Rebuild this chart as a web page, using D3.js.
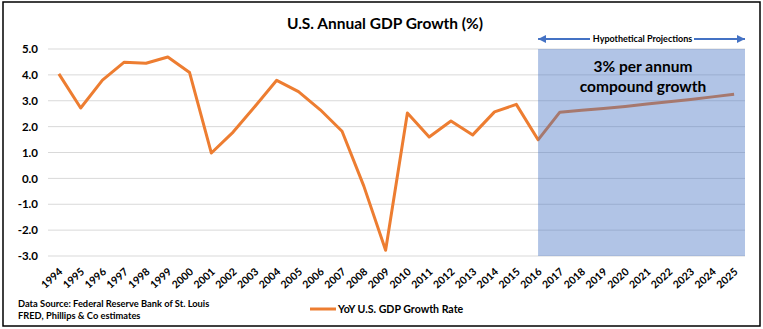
<!DOCTYPE html>
<html>
<head>
<meta charset="utf-8">
<script src="https://cdn.jsdelivr.net/npm/d3@7"></script>
<style>
  body { margin: 0; background: #fff; }
  svg text { font-family: Lato, "Open Sans", sans-serif; fill: #000; }
</style>
</head>
<body>
<div id="chart"></div>
<script>
// chart data
const years = ["1994","1995","1996","1997","1998","1999","2000","2001","2002","2003","2004",
  "2005","2006","2007","2008","2009","2010","2011","2012","2013","2014","2015","2016",
  "2017","2018","2019","2020","2021","2022","2023","2024","2025"];
const growth = [4.04, 2.72, 3.80, 4.49, 4.45, 4.69, 4.09, 0.98, 1.79, 2.78, 3.79,
  3.35, 2.65, 1.82, -0.30, -2.78, 2.53, 1.60, 2.22, 1.68, 2.57, 2.86, 1.49,
  2.56, 2.63, 2.70, 2.78, 2.87, 2.96, 3.05, 3.15, 3.25];
const yTicks = [5, 4, 3, 2, 1, 0, -1, -2, -3];
const projectionStart = "2016";
const seriesName = "YoY U.S. GDP Growth Rate";

const width = 763, height = 329;
const plotLeft = 48, plotRight = 745, plotTop = 49, plotBottom = 256;

const svg = d3.select('#chart').append('svg')
    .attr('width', width)
    .attr('height', height);

// outer frame
svg.append('rect')
    .attr('x', 3).attr('y', 2)
    .attr('width', 757).attr('height', 324)
    .attr('fill', 'none')
    .attr('stroke', '#000')
    .attr('stroke-width', 1.5);

const x = d3.scaleBand().domain(years).range([plotLeft, plotRight]).padding(0);
const y = d3.scaleLinear().domain([-3, 5]).range([plotBottom, plotTop]);
const cx = d => x(d) + x.bandwidth() / 2;

// gridlines
svg.append('g')
    .selectAll('line')
    .data(yTicks)
    .join('line')
    .attr('x1', plotLeft).attr('x2', plotRight)
    .attr('y1', d => y(d)).attr('y2', d => y(d))
    .attr('stroke', '#d9d9d9')
    .attr('stroke-width', 1);

// y labels
svg.append('g')
    .selectAll('text')
    .data(yTicks)
    .join('text')
    .attr('x', 38)
    .attr('y', d => y(d))
    .attr('dy', '0.36em')
    .attr('text-anchor', 'end')
    .style('font-size', '11.5px')
    .style('font-weight', 'bold')
    .text(d => d.toFixed(1));

// x labels, rotated
svg.append('g')
    .selectAll('text')
    .data(years)
    .join('text')
    .attr('transform', d => `translate(${cx(d) + 2},${plotBottom + 14}) rotate(-42)`)
    .attr('dy', '0.35em')
    .attr('text-anchor', 'end')
    .style('font-size', '10.5px')
    .style('font-weight', 'bold')
    .text(d => d);

// the series
const line = d3.line()
    .x((d, i) => cx(years[i]))
    .y(d => y(d));

svg.append('path')
    .datum(growth)
    .attr('d', line)
    .attr('fill', 'none')
    .attr('stroke', '#ed7d31')
    .attr('stroke-width', 3)
    .attr('stroke-linejoin', 'round');

// projection shading on top of the line
svg.append('rect')
    .attr('x', cx(projectionStart))
    .attr('y', plotTop)
    .attr('width', plotRight - cx(projectionStart))
    .attr('height', plotBottom - plotTop)
    .attr('fill', '#4472c4')
    .attr('fill-opacity', 0.42);

// arrow for "Hypothetical Projections"
const defs = svg.append('defs');
['arrow-end', 'arrow-start'].forEach((id, k) => {
    defs.append('marker')
        .attr('id', id)
        .attr('viewBox', '0 -5 10 10')
        .attr('refX', 10).attr('refY', 0)
        .attr('markerWidth', 4).attr('markerHeight', 4)
        .attr('orient', k === 0 ? 'auto' : 'auto-start-reverse')
      .append('path')
        .attr('d', 'M0,-5L10,0L0,5Z')
        .attr('fill', '#4472c4');
});

const arrowY = 39;
const projX1 = cx(projectionStart), projX2 = plotRight;
svg.append('line')
    .attr('x1', projX1).attr('x2', 590)
    .attr('y1', arrowY).attr('y2', arrowY)
    .attr('stroke', '#4472c4').attr('stroke-width', 2)
    .attr('marker-start', 'url(#arrow-start)');
svg.append('line')
    .attr('x1', 694).attr('x2', projX2)
    .attr('y1', arrowY).attr('y2', arrowY)
    .attr('stroke', '#4472c4').attr('stroke-width', 2)
    .attr('marker-end', 'url(#arrow-end)');
svg.append('text')
    .attr('x', (projX1 + projX2) / 2 + 1)
    .attr('y', arrowY + 3)
    .attr('text-anchor', 'middle')
    .style('font-size', '9px')
    .style('font-weight', 'bold')
    .text('Hypothetical Projections');

// projection note
svg.append('text')
    .attr('x', 643).attr('y', 72)
    .attr('text-anchor', 'middle')
    .style('font-size', '15.5px')
    .style('font-weight', 'bold')
    .text('3% per annum');
svg.append('text')
    .attr('x', 643).attr('y', 92)
    .attr('text-anchor', 'middle')
    .style('font-size', '15.5px')
    .style('font-weight', 'bold')
    .text('compound growth');

// title
svg.append('text')
    .attr('x', 385).attr('y', 29)
    .attr('text-anchor', 'middle')
    .style('font-size', '15.5px')
    .style('font-weight', 'bold')
    .text('U.S. Annual GDP Growth (%)');

// source note
svg.append('text')
    .attr('x', 18).attr('y', 307)
    .style('font-size', '9.3px')
    .style('font-weight', 'bold')
    .text('Data Source: Federal Reserve Bank of St. Louis');
svg.append('text')
    .attr('x', 18).attr('y', 319)
    .style('font-size', '9.3px')
    .style('font-weight', 'bold')
    .text('FRED, Phillips & Co estimates');

// legend
svg.append('line')
    .attr('x1', 310).attr('x2', 336)
    .attr('y1', 309).attr('y2', 309)
    .attr('stroke', '#ed7d31').attr('stroke-width', 3);
svg.append('text')
    .attr('x', 338).attr('y', 313)
    .style('font-size', '10.6px')
    .style('font-weight', 'bold')
    .text(seriesName);
</script>
</body>
</html>
